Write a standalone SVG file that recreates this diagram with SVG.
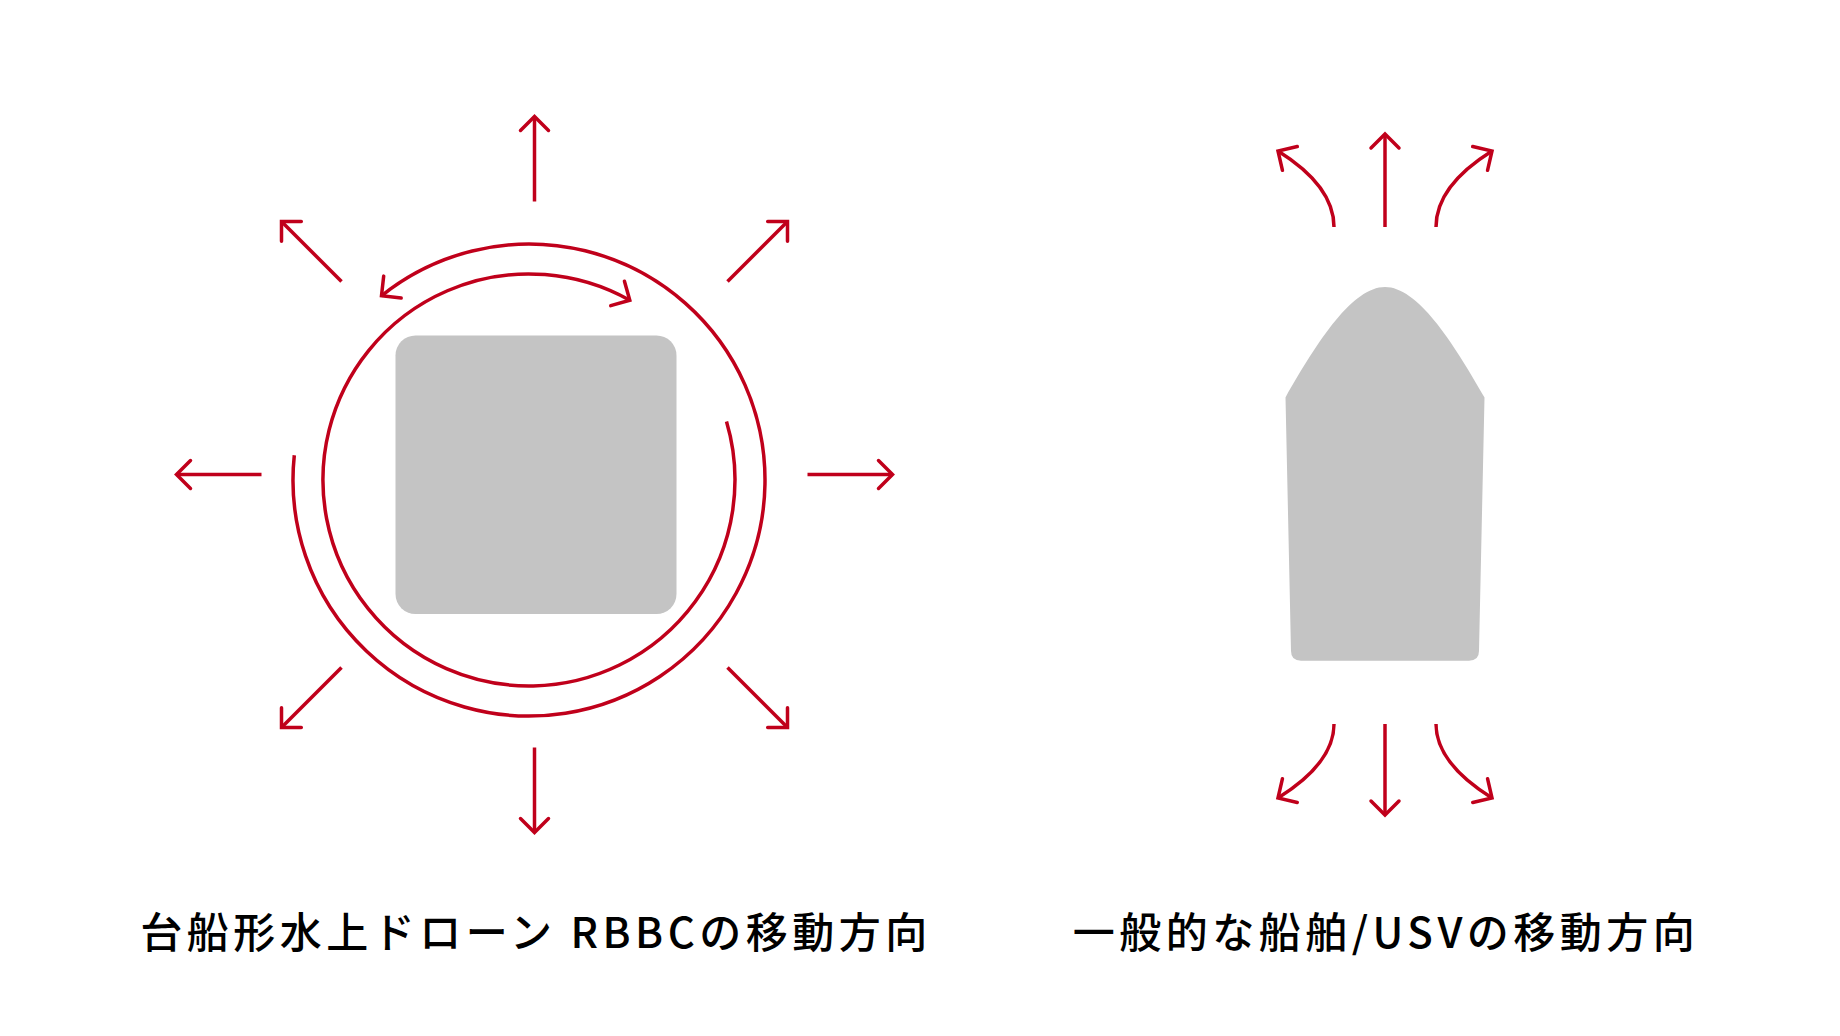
<svg xmlns="http://www.w3.org/2000/svg" width="1840" height="1036" viewBox="0 0 1840 1036">
<style>
.ln{fill:none;stroke:#c0001b;stroke-width:3.5;marker-end:url(#ah)}
.hull{fill:#c4c4c4}
.lbl{font-family:"Noto Sans CJK JP","Noto Sans",sans-serif;font-size:42px;font-weight:500;letter-spacing:4.5px;fill:#000;text-anchor:middle}
</style>
<defs>
<marker id="ah" markerUnits="userSpaceOnUse" viewBox="-20 -20 40 40" markerWidth="40" markerHeight="40" refX="0" refY="0" orient="auto">
<path d="M-14,-14 L0,0 L-14,14" fill="none" stroke="#c0001b" stroke-width="3.5" stroke-linejoin="miter" stroke-linecap="round"/>
</marker>
</defs>
<rect width="1840" height="1036" fill="#fff"/>
<g transform="translate(-2,0)">
<g id="rbbc">
<rect class="hull" x="397.5" y="335.5" width="281" height="278.5" rx="20" ry="20"/>
</g>
<g id="ship">
<path class="hull" d="M1387,287 C1419,287 1454,340 1486.5,397.5 L1481,651 Q1481,660.7 1471,660.7 L1303,660.7 Q1293,660.7 1293,651 L1287.5,397.5 C1320,340 1355,287 1387,287 Z"/>
</g>
<g id="connectors">
<path class="ln" d="M536.5,201.5 L536.5,116.5"/>
<path class="ln" d="M536.5,747.5 L536.5,832.5"/>
<path class="ln" d="M263.5,474.5 L178.5,474.5"/>
<path class="ln" d="M809.5,474.5 L894.5,474.5"/>
<path class="ln" d="M343.5,281.5 L283.5,221.5"/>
<path class="ln" d="M729.5,281.5 L789.5,221.5"/>
<path class="ln" d="M343.5,667.5 L283.5,727.5"/>
<path class="ln" d="M729.5,667.5 L789.5,727.5"/>
<path class="ln" d="M296.3,455.3 A236,236 0 1 0 383.5,295.8"/>
<path class="ln" d="M728.5,421.5 A206,206 0 1 1 631.8,300.3"/>
<path class="ln" d="M1387,227 L1387,134"/>
<path class="ln" d="M1387,724 L1387,815"/>
<path class="ln" d="M1336,227 Q1336,186 1280,151"/>
<path class="ln" d="M1438,227 Q1438,186 1494,151"/>
<path class="ln" d="M1336,724 Q1336,763 1280,798"/>
<path class="ln" d="M1438,724 Q1438,763 1494,798"/>
</g>
</g>
<g id="labels">
<text class="lbl" x="536" y="948">台船形水上ドローン RBBCの移動方向</text>
<text class="lbl" x="1386" y="948">一般的な船舶/USVの移動方向</text>
</g>
</svg>
